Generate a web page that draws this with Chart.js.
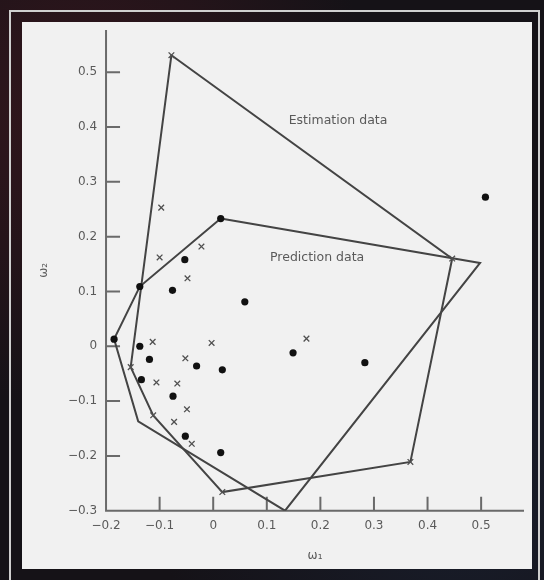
<!DOCTYPE html>
<html>
<head>
<meta charset="utf-8">
<script src="https://cdn.jsdelivr.net/npm/chart.js@4.4.1/dist/chart.umd.min.js"></script>
<style>
  html, body { margin: 0; padding: 0; }
  body {
    width: 544px; height: 580px; overflow: hidden; position: relative;
    background:
      radial-gradient(circle at 15% 20%, rgba(110, 30, 40, 0.35), transparent 45%),
      radial-gradient(circle at 85% 85%, rgba(30, 50, 80, 0.35), transparent 45%),
      #151217;
  }
  .frame {
    position: absolute; left: 9px; top: 10px; width: 527px; height: 600px;
    border: 2px solid #cfcfcf;
  }
  .panel {
    position: absolute; left: 22px; top: 22px; width: 510px; height: 547px;
    background: #f1f1f1;
  }
</style>
</head>
<body>
<div class="frame"></div>
<div class="panel"><canvas id="hullChart"></canvas></div>
<script>
// omega_1 / omega_2 values
const estimationPoints = [
  [-0.078, 0.531], [-0.097, 0.253], [-0.100, 0.162], [-0.022, 0.182],
  [-0.048, 0.124], [-0.113, 0.008], [-0.003, 0.006], [0.174, 0.014],
  [-0.052, -0.022], [-0.154, -0.038], [-0.106, -0.066], [-0.067, -0.068],
  [-0.049, -0.115], [-0.112, -0.126], [-0.073, -0.138], [-0.040, -0.178],
  [0.017, -0.266], [0.368, -0.211], [0.446, 0.160]
];
const predictionPoints = [
  [0.014, 0.233], [-0.053, 0.158], [-0.076, 0.102], [-0.137, 0.109],
  [-0.185, 0.013], [0.059, 0.081], [-0.137, 0.000], [-0.119, -0.024],
  [-0.031, -0.036], [0.017, -0.043], [-0.134, -0.061], [-0.075, -0.091],
  [-0.052, -0.164], [0.014, -0.194], [0.149, -0.012], [0.283, -0.030],
  [0.508, 0.272]
];
const estimationHull = [
  [-0.078, 0.531], [0.446, 0.160], [0.368, -0.211], [0.017, -0.266],
  [-0.112, -0.126], [-0.154, -0.038]
];
const predictionHull = [
  [0.014, 0.233], [0.498, 0.152], [0.134, -0.300], [-0.140, -0.137],
  [-0.185, 0.013], [-0.137, 0.109]
];
const xTicks = [-0.2, -0.1, 0, 0.1, 0.2, 0.3, 0.4, 0.5];
const yTicks = [-0.3, -0.2, -0.1, 0, 0.1, 0.2, 0.3, 0.4, 0.5];
const noteLabels = ["Estimation data", "Prediction data"];
const notePoints = [[0.233, 0.411], [0.194, 0.162]];

const fontFamily = "\"DejaVu Sans\", Arial, sans-serif";
const inkColor = "#5a5a5a";
const lineColor = "#444444";

const toXY = (list) => list.map(([x, y]) => ({ x, y }));
const closed = (list) => toXY(list.concat([list[0]]));
const fmt = (v) => {
  const s = v === 0 ? "0" : String(Number(v.toFixed(1)));
  return s.replace("-", "\u2212");
};

const axisPlugin = {
  id: "axisPlugin",
  beforeDatasetsDraw(chart) {
    const { ctx, scales: { x, y } } = chart;
    const x0 = x.getPixelForValue(xTicks[0]);
    const y0 = y.getPixelForValue(yTicks[0]);
    ctx.save();
    ctx.strokeStyle = "#6a6a6a";
    ctx.lineWidth = 2;
    ctx.beginPath();
    ctx.moveTo(x0, y.top);
    ctx.lineTo(x0, y0);
    ctx.lineTo(x.right, y0);
    xTicks.slice(1).forEach((v) => {
      const px = x.getPixelForValue(v);
      ctx.moveTo(px, y0);
      ctx.lineTo(px, y0 - 14);
    });
    yTicks.slice(1).forEach((v) => {
      const py = y.getPixelForValue(v);
      ctx.moveTo(x0, py);
      ctx.lineTo(x0 + 14, py);
    });
    ctx.stroke();
    ctx.restore();
  },
  afterDatasetsDraw(chart) {
    const { ctx, scales: { x, y } } = chart;
    ctx.save();
    ctx.fillStyle = inkColor;
    ctx.font = "12.5px " + fontFamily;
    ctx.textAlign = "center";
    ctx.textBaseline = "middle";
    noteLabels.forEach((text, i) => {
      ctx.fillText(text, x.getPixelForValue(notePoints[i][0]), y.getPixelForValue(notePoints[i][1]));
    });
    ctx.restore();
  }
};

new Chart(document.getElementById("hullChart"), {
  type: "scatter",
  data: {
    datasets: [
      {
        label: "Estimation data",
        data: toXY(estimationPoints),
        pointStyle: "crossRot",
        pointRadius: 4,
        borderColor: "#505050",
        borderWidth: 1.3,
        order: 1
      },
      {
        label: "Prediction data",
        data: toXY(predictionPoints),
        pointStyle: "circle",
        pointRadius: 3.6,
        backgroundColor: "#111111",
        borderColor: "#111111",
        borderWidth: 0,
        order: 1
      },
      {
        label: "Estimation hull",
        data: closed(estimationHull),
        showLine: true,
        pointRadius: 0,
        borderColor: lineColor,
        borderWidth: 2,
        fill: false,
        order: 2
      },
      {
        label: "Prediction hull",
        data: closed(predictionHull),
        showLine: true,
        pointRadius: 0,
        borderColor: lineColor,
        borderWidth: 2,
        fill: false,
        order: 2
      }
    ]
  },
  options: {
    responsive: true,
    maintainAspectRatio: false,
    animation: false,
    layout: { padding: { top: 8, right: 8, bottom: 2, left: 0 } },
    plugins: {
      legend: { display: false },
      tooltip: { enabled: false }
    },
    scales: {
      x: {
        type: "linear",
        min: -0.2,
        max: 0.58,
        afterBuildTicks: (axis) => { axis.ticks = xTicks.map((value) => ({ value })); },
        grid: { display: false, drawTicks: false },
        border: { display: false },
        ticks: {
          padding: 8,
          maxRotation: 0,
          autoSkip: false,
          color: inkColor,
          font: { family: fontFamily, size: 12 },
          callback: (value) => fmt(value)
        },
        title: {
          display: true,
          text: "\u03c9\u2081",
          color: inkColor,
          font: { family: fontFamily, size: 12 },
          padding: { top: 7.5, bottom: 4 }
        }
      },
      y: {
        type: "linear",
        min: -0.3,
        max: 0.577,
        afterBuildTicks: (axis) => { axis.ticks = yTicks.map((value) => ({ value })); },
        // the top label sits well below the axis end, so no label padding is needed
        afterFit: (axis) => { axis.paddingTop = 0; axis.paddingBottom = 0; },
        grid: { display: false, drawTicks: false },
        border: { display: false },
        ticks: {
          padding: 9,
          autoSkip: false,
          color: inkColor,
          font: { family: fontFamily, size: 12 },
          callback: (value) => fmt(value)
        },
        title: {
          display: true,
          text: "\u03c9\u2082",
          color: inkColor,
          font: { family: fontFamily, size: 12 },
          padding: { top: 15, bottom: 7.5 }
        }
      }
    }
  },
  plugins: [axisPlugin]
});
</script>
</body>
</html>
